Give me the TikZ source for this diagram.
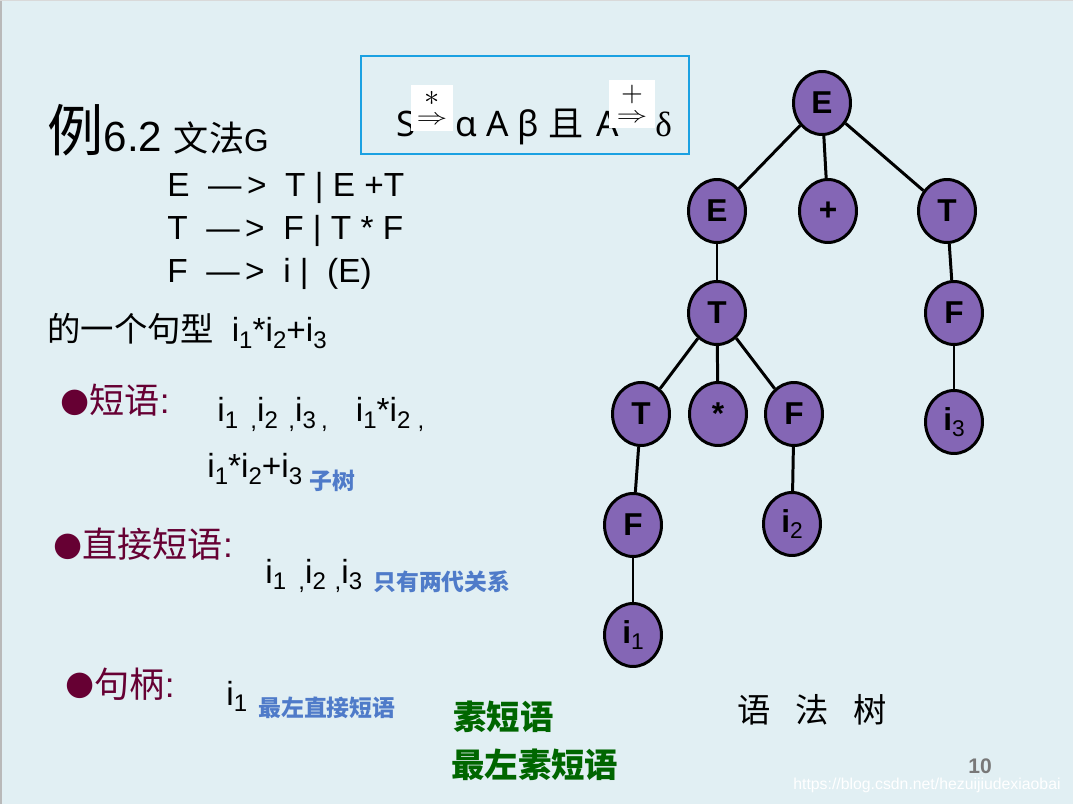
\documentclass[tikz,border=0pt]{standalone}
\usepackage{fontspec}
\setmainfont{Liberation Sans}
\newfontfamily\cjk{Noto Sans CJK SC}
\newfontfamily\symf{DejaVu Sans}
\newfontfamily\boxf{Noto Sans}
\newfontfamily\serf{Liberation Serif}
\usetikzlibrary{shapes.geometric}

\definecolor{slidebg}{HTML}{E1EFF3}
\definecolor{treepurple}{HTML}{8466B5}
\definecolor{bulletred}{HTML}{660033}
\definecolor{noteblue}{HTML}{4F7BC9}
\definecolor{calgreen}{HTML}{006600}
\definecolor{boxline}{HTML}{1BA1E2}
\definecolor{pagegray}{HTML}{787878}

\newcommand{\fsz}[1]{\fontsize{#1}{#1}\selectfont}
\newcommand{\sbs}[1]{\raisebox{-.35ex}{\scalebox{.72}{#1}}}
\newcommand{\bul}{\raisebox{1.5pt}{\symf\fsz{19}●}}
\newcommand{\derives}[1]{\shortstack{#1\\[3pt]\scalebox{1.75}[1.3]{$\Rightarrow$}}}

\begin{document}
\begin{tikzpicture}[x=0.02cm,y=-0.02cm,
  tnode/.style={draw,ellipse,fill=treepurple,line width=1.7pt,inner sep=0pt,
    minimum width=1.14cm,minimum height=1.26cm,font=\fsz{18}\bfseries},
  branch/.style={draw,line width=1.7pt},
  txt/.style={anchor=base west,inner sep=0pt},
  patch/.style={fill=white,inner sep=0pt}]
  %\draw[help lines,step=50] (0,0) grid (1073,804);

  \fill[slidebg] (0,0) rectangle (1073,804);
  \fill[gray!55] (0,0) rectangle (2,804);
  \fill[gray!30] (0,0) rectangle (1073,1);
  \useasboundingbox (0,0) rectangle (1073,804);

  % derivation box
  \draw[boxline,line width=0.6pt] (361,56) rectangle (689,154);
  \draw (396,137) node[txt](S)     {\boxf\fsz{20}S};
  \draw (455,137) node[txt](mid)   {\boxf\fsz{20}α A β {\cjk 且}\hspace{2pt} A};
  \draw (432,108) node[patch,minimum width=0.84cm,minimum height=0.92cm](derA)
        {\derives{\fsz{18}$\ast$}};
  \draw (632,104) node[patch,minimum width=0.94cm,minimum height=0.96cm](derB)
        {\derives{\scalebox{1.6}{$+$}}};
  \draw (655,137) node[txt](delta) {\serf\fsz{20}δ};

  % grammar
  \draw (47,152) node[txt](ex)  {{\cjk\fsz{32}例}\fsz{24}6.2 {\cjk\fsz{20}文法}\fsz{18}G};
  \draw (167,197) node[txt](pE) {\fsz{19}E\ \ —\,>\ \ T | E +T};
  \draw (167,240) node[txt](pT) {\fsz{19}T\ \ —\,>\ \ F | T * F};
  \draw (167,283) node[txt](pF) {\fsz{19}F\ \ —\,>\ \ i |\ \ (E)};
  \draw (47,342) node[txt](form) {{\cjk\fsz{19}的一个句型}\hspace{10pt}\fsz{19}i\sbs{1}*i\sbs{2}+i\sbs{3}};

  % phrases
  \draw (60,414) node[txt,bulletred](phr)
        {\bul{\cjk\fsz{20}短语}\fsz{20}:};
  \draw (217,422) node[txt](phrA)
        {\fsz{19}i\sbs{1}\hspace{7pt}\sbs{,}i\sbs{2}\hspace{6pt}\sbs{,}i\sbs{3}\hspace{3pt}\sbs{,}\hspace{16pt}i\sbs{1}*i\sbs{2}\hspace{4pt}\sbs{,}};
  \draw (207,478) node[txt](phrB) {\fsz{19}i\sbs{1}*i\sbs{2}+i\sbs{3}};
  \draw (309,490) node[txt,noteblue](subt) {\cjk\bfseries\fsz{13}子树};

  \draw (53,558) node[txt,bulletred](dphr)
        {\bul{\cjk\fsz{20}直接短语}\fsz{20}:};
  \draw (265,583) node[txt](dphrA)
        {\fsz{19}i\sbs{1}\hspace{7pt}\sbs{,}i\sbs{2}\hspace{5pt}\sbs{,}i\sbs{3}};
  \draw (373,590) node[txt,noteblue](twog) {\cjk\bfseries\fsz{13}只有两代关系};

  \draw (65,697) node[txt,bulletred](hdl)
        {\bul{\cjk\fsz{20}句柄}\fsz{20}:};
  \draw (226,705) node[txt](hdlA) {\fsz{19}i\sbs{1}};
  \draw (258,716) node[txt,noteblue](lmost) {\cjk\bfseries\fsz{13}最左直接短语};

  \draw (453,729) node[txt,calgreen](prime)  {\cjk\bfseries\fsz{19}素短语};
  \draw (451,777) node[txt,calgreen](lprime) {\cjk\bfseries\fsz{19}最左素短语};

  % syntax tree
  \draw (822,103) node[tnode](E0)   {E};
  \draw (717,211) node[tnode](E1)   {E};
  \draw (828,211) node[tnode](plus) {+};
  \draw (947,211) node[tnode](T1)   {T};
  \draw (717,313) node[tnode](T2)   {T};
  \draw (954,313) node[tnode](F1)   {F};
  \draw (641,414) node[tnode](T3)   {T};
  \draw (718,414) node[tnode](star) {*};
  \draw (794,414) node[tnode](F2)   {F};
  \draw (954,422) node[tnode](i3)   {i{\mdseries\sbs{3}}};
  \draw (633,525) node[tnode](F3)   {F};
  \draw (792,524) node[tnode](i2)   {i{\mdseries\sbs{2}}};
  \draw (633,635) node[tnode](i1)   {i{\mdseries\sbs{1}}};

  \path[branch] (E0) -- (E1);
  \path[branch] (E0) -- (plus);
  \path[branch] (E0) -- (T1);
  \path[branch] (E1) -- (T2);
  \path[branch] (T1) -- (F1);
  \path[branch] (F1) -- (i3);
  \path[branch] (T2) -- (T3);
  \path[branch] (T2) -- (star);
  \path[branch] (T2) -- (F2);
  \path[branch] (T3) -- (F3);
  \path[branch] (F3) -- (i1);
  \path[branch] (F2) -- (i2);

  \draw (737,722) node[txt](cap) {\cjk\fsz{19}语\hspace{14pt}法\hspace{14pt}树};

  \draw (968,773) node[txt,pagegray](pg) {\fsz{12}\bfseries 10};
  \draw (793,789) node[txt,white](wm) {\fsz{9}https://blog.csdn.net/hezuijiudexiaobai};

\end{tikzpicture}
\end{document}
